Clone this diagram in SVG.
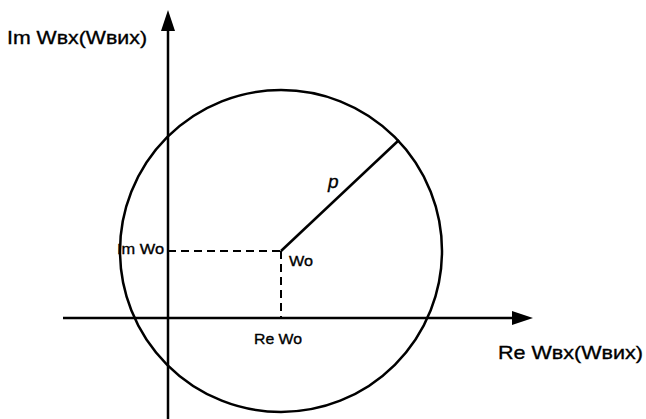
<svg xmlns="http://www.w3.org/2000/svg" width="646" height="419" viewBox="0 0 646 419">
<style>
.ln{stroke:#000;stroke-width:2.5;fill:none}
.ds{stroke:#000;stroke-width:2;fill:none;stroke-dasharray:8 5}
.t{font-family:"Liberation Sans",Arial,sans-serif;fill:#000;stroke:#000;stroke-width:0.35}
.big{font-size:19px}
.sm{font-size:15px}
</style>
<rect width="646" height="419" fill="#fff"/>
<g id="connectors">
<line id="im-axis" class="ln" x1="168" y1="28" x2="168" y2="419"/>
<polygon points="168,10 161,31 175,31" fill="#000"/>
<line id="re-axis" class="ln" x1="63" y1="318" x2="515" y2="318"/>
<polygon points="533,318 512,311 512,325" fill="#000"/>
<line id="radius" class="ln" x1="281" y1="251" x2="399" y2="140"/>
<line id="im-proj" class="ds" x1="168" y1="251" x2="281" y2="251"/>
<line id="re-proj" class="ds" x1="281" y1="251" x2="281" y2="318"/>
</g>
<g id="circle"><circle class="ln" cx="281" cy="251" r="161"/></g>
<g id="label-im-axis"><text class="t big" x="7" y="44" textLength="140" lengthAdjust="spacingAndGlyphs">Im Wвх(Wвих)</text></g>
<g id="label-re-axis"><text class="t big" x="498" y="359" textLength="145" lengthAdjust="spacingAndGlyphs">Re Wвх(Wвих)</text></g>
<g id="label-p"><text class="t" x="328" y="188" font-size="19" font-style="italic">p</text></g>
<g id="label-imwo"><text class="t sm" x="117" y="254" textLength="47" lengthAdjust="spacingAndGlyphs">Im Wo</text></g>
<g id="label-wo"><text class="t sm" x="289" y="266" textLength="24" lengthAdjust="spacingAndGlyphs">Wo</text></g>
<g id="label-rewo"><text class="t sm" x="254" y="344" textLength="48" lengthAdjust="spacingAndGlyphs">Re Wo</text></g>
</svg>
